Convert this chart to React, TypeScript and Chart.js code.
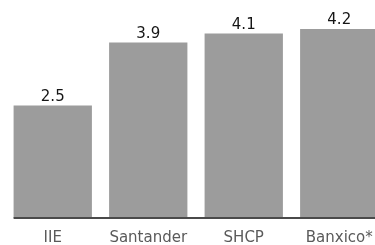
import React, { useEffect, useRef } from "react";
import { Chart, registerables } from "chart.js";

Chart.register(...registerables);

const categories = ["IIE", "Santander", "SHCP", "Banxico*"];
const values = [2.5, 3.9, 4.1, 4.2];
const valueLabels = ["2.5", "3.9", "4.1", "4.2"];

const FONT = "'DejaVu Sans', Verdana, sans-serif";

const overlayPlugin = {
  id: "overlay",
  afterDatasetsDraw(chart: any) {
    const ctx = chart.ctx;
    const meta = chart.getDatasetMeta(0);
    const yScale = chart.scales.y;
    const xScale = chart.scales.x;
    const zeroY = yScale.getPixelForValue(0);
    const first = meta.data[0];
    ctx.save();
    // baseline
    ctx.strokeStyle = "#4a4a4a";
    ctx.lineWidth = 2;
    ctx.beginPath();
    ctx.moveTo(first.x - first.width / 2, zeroY);
    ctx.lineTo(chart.width, zeroY);
    ctx.stroke();
    // value labels
    ctx.fillStyle = "#151515";
    ctx.font = `15px ${FONT}`;
    ctx.textAlign = "center";
    ctx.textBaseline = "alphabetic";
    meta.data.forEach((bar: any, i: number) => {
      ctx.fillText(valueLabels[i], bar.x, bar.y - 5);
    });
    // category labels
    ctx.fillStyle = "#5a5a5a";
    categories.forEach((c: string, i: number) => {
      ctx.fillText(c, xScale.getPixelForValue(i), zeroY + 24);
    });
    ctx.restore();
  },
};

export default function App() {
  const ref = useRef<HTMLCanvasElement | null>(null);
  useEffect(() => {
    document.body.style.margin = "0";
    document.body.style.overflow = "hidden";
    document.body.style.background = "#ffffff";
    const chart = new Chart(ref.current as HTMLCanvasElement, {
      type: "bar",
      data: {
        labels: categories,
        datasets: [
          {
            data: values,
            backgroundColor: "#9c9c9c",
            borderWidth: 0,
            barPercentage: 0.82,
            categoryPercentage: 1,
          },
        ],
      },
      options: {
        animation: false,
        responsive: false,
        maintainAspectRatio: false,
        layout: { padding: { left: 5, right: 3, top: 2, bottom: 27 } },
        plugins: {
          legend: { display: false },
          tooltip: { enabled: false },
          title: { display: false },
        },
        scales: {
          x: {
            display: false,
          },
          y: {
            display: false,
            min: 0,
            max: 4.8,
          },
        },
      },
      plugins: [overlayPlugin],
    });
    return () => chart.destroy();
  }, []);
  return (
    <div style={{ position: "relative", width: 375, height: 245, overflow: "hidden" }}>
      <canvas ref={ref} width={390} height={245} style={{ position: "absolute", left: 0, top: 0, width: 390, height: 245 }} />
    </div>
  );
}
